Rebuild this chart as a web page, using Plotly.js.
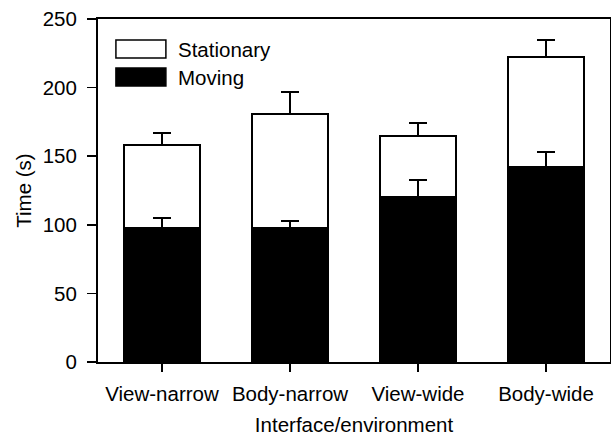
<!DOCTYPE html>
<html>
<head>
<meta charset="utf-8">
<script src="https://cdn.plot.ly/plotly-3.0.1.min.js"></script>
<style>html,body{margin:0;padding:0;background:#fff;}#chart{width:611px;height:438px;}</style>
</head>
<body>
<div id="chart"></div>
<script>
const categories = ["View-narrow", "Body-narrow", "View-wide", "Body-wide"];
const moving = [98, 98, 120, 142];
const movingErr = [7, 5, 13, 11];
const stationary = [60, 83, 45, 80];
const stationaryErr = [9, 16, 9, 13];
const yTicks = [0, 50, 100, 150, 200, 250];
const seriesNames = ["Stationary", "Moving"];

const FONT = "Liberation Sans, Arial, Helvetica, sans-serif";
const FS = 20.5;

const traces = [
  {
    type: "bar", name: seriesNames[1], x: categories, y: moving,
    marker: {color: "#000000", line: {color: "#000000", width: 1}},
    error_y: {type: "data", array: movingErr, symmetric: false, arrayminus: [0,0,0,0], color: "#000000", thickness: 2, width: 9},
    width: 0.6, showlegend: false
  },
  {
    type: "bar", name: seriesNames[0], x: categories, y: stationary,
    marker: {color: "rgba(255,255,255,0)", line: {color: "#000000", width: 2}},
    error_y: {type: "data", array: stationaryErr, symmetric: false, arrayminus: [0,0,0,0], color: "#000000", thickness: 2, width: 9},
    width: 0.6, showlegend: false
  }
];

const layout = {
  width: 611, height: 438,
  margin: {l: 98, r: 1, t: 19, b: 76},
  paper_bgcolor: "#ffffff", plot_bgcolor: "#ffffff",
  barmode: "stack",
  font: {family: FONT, size: FS, color: "#000000"},
  showlegend: false,
  xaxis: {
    range: [-0.5, 3.5], showgrid: false, zeroline: false,
    showline: true, linecolor: "#000000", linewidth: 2, mirror: true,
    ticks: "outside", ticklen: 8, tickwidth: 1.5, tickcolor: "#000000",
    ticklabelstandoff: 4,
    tickfont: {family: FONT, size: FS},
    title: {text: "Interface/environment", font: {family: FONT, size: FS}, standoff: 14}
  },
  yaxis: {
    range: [0, 250], tickvals: yTicks, showgrid: false, zeroline: false,
    showline: true, linecolor: "#000000", linewidth: 2, mirror: true,
    ticks: "outside", ticklen: 9, tickwidth: 1.5, tickcolor: "#000000",
    ticklabelstandoff: 6,
    tickfont: {family: FONT, size: FS},
    title: {text: "Time (s)", font: {family: FONT, size: FS}, standoff: 6}
  },
  shapes: [
    {type: "rect", xref: "paper", yref: "paper", x0: 0.035, x1: 0.1326, y0: 0.8863, y1: 0.9388,
     fillcolor: "#ffffff", line: {color: "#000000", width: 1.5}},
    {type: "rect", xref: "paper", yref: "paper", x0: 0.035, x1: 0.1326, y0: 0.8047, y1: 0.8571,
     fillcolor: "#000000", line: {color: "#000000", width: 1.5}}
  ],
  annotations: [
    {xref: "paper", yref: "paper", x: 0.152, y: 0.9125, text: seriesNames[0], showarrow: false,
     xanchor: "left", yanchor: "middle", font: {family: FONT, size: FS}},
    {xref: "paper", yref: "paper", x: 0.152, y: 0.8309, text: seriesNames[1], showarrow: false,
     xanchor: "left", yanchor: "middle", font: {family: FONT, size: FS}}
  ]
};

Plotly.newPlot("chart", traces, layout, {displayModeBar: false, staticPlot: true});
</script>
</body>
</html>
